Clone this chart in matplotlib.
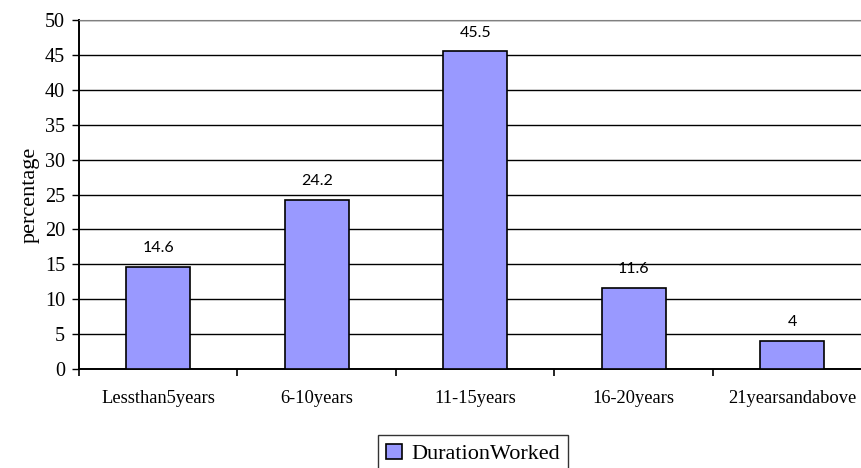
import numpy as np
import matplotlib.pyplot as plt

# Duration worked categories and their percentages
categories = ['Lessthan5years', '6-10years', '11-15years', '16-20years', '21yearsandabove']
values = [14.6, 24.2, 45.5, 11.6, 4]
value_labels = ['14.6', '24.2', '45.5', '11.6', '4']

serif = 'Liberation Serif'
sans = 'Lato'

fig = plt.figure(figsize=(8.62, 4.68), dpi=100)
# axes runs past the right edge of the figure
ax = fig.add_axes([79 / 862, (468 - 369) / 468, 5 * 158.5 / 862, 349 / 468])

x = np.arange(len(categories))
ax.bar(x, values, width=0.405, color='#9999ff', edgecolor='black', linewidth=1.2,
       zorder=3, label='DurationWorked')

for xi, v, lab in zip(x, values, value_labels):
    ax.text(xi, v + 1.7, lab, ha='center', va='bottom', fontsize=11.5, family=sans)

ax.set_xlim(-0.5, len(categories) - 0.5)
ax.set_ylim(0, 50)
ax.set_yticks(np.arange(0, 51, 5))
ax.yaxis.grid(True, color='black', linewidth=1.0, zorder=0)
ax.set_axisbelow(True)

# category labels sit between boundary ticks
ax.set_xticks(np.arange(-0.5, len(categories), 1.0))
ax.set_xticklabels([])
ax.set_xticks(x, minor=True)
ax.set_xticklabels(categories, minor=True, family=serif, fontsize=13.3)
ax.tick_params(axis='x', which='minor', length=0, pad=15)
ax.tick_params(axis='x', which='major', length=5, width=1.2, direction='out')
ax.tick_params(axis='y', length=5, width=1.0, pad=5)
for t in ax.get_yticklabels():
    t.set_family(serif)
    t.set_fontsize(14.5)

ax.spines['top'].set_color('#808080')
ax.spines['right'].set_visible(False)
ax.spines['left'].set_linewidth(1.4)
ax.spines['bottom'].set_linewidth(1.4)

ax.set_ylabel('percentage', family=serif, fontsize=16, labelpad=4)

leg = ax.legend(loc='center', bbox_to_anchor=(473 / 862, 14 / 468),
                bbox_transform=fig.transFigure, prop={'family': serif, 'size': 16},
                frameon=True, fancybox=False, edgecolor='black', handlelength=0.7,
                handleheight=0.7, handletextpad=0.4, borderpad=0.4, borderaxespad=0)
leg.get_frame().set_linewidth(1.0)

fig.savefig('out.png', dpi=100)
